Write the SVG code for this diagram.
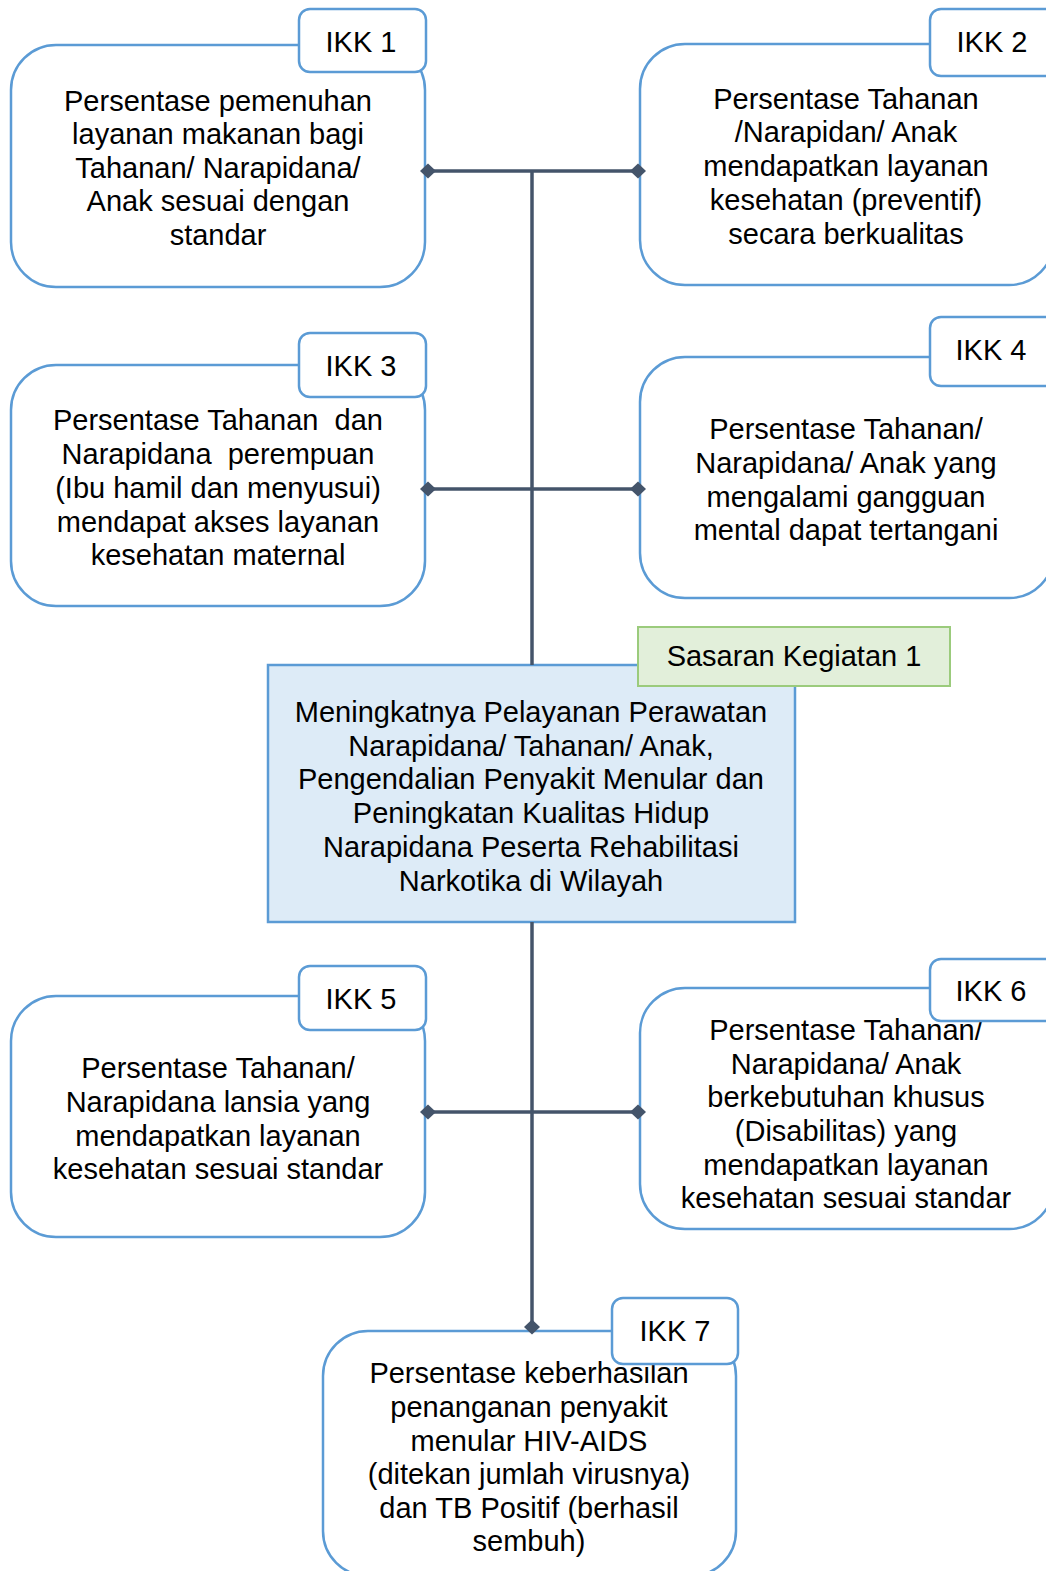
<svg xmlns="http://www.w3.org/2000/svg" width="1046" height="1571" viewBox="0 0 1046 1571">
<style>
.box{fill:#fff;stroke:#5B9BD5;stroke-width:2.5}
.lbl{fill:#fff;stroke:#5B9BD5;stroke-width:2.5}
.main{fill:#DDEBF7;stroke:#5B9BD5;stroke-width:2.5}
.green{fill:#E2EFDA;stroke:#9BCB7C;stroke-width:2}
text{font-family:"Liberation Sans",Arial,sans-serif;font-size:29px;fill:#000;text-anchor:middle;white-space:pre}
.conn{stroke:#44546A;stroke-width:3.5;fill:none}
.dia{fill:#44546A}
</style>
<defs>
<path id="d" d="M-8 0L0 -7.5L8 0L0 7.5Z"/>
</defs>
<rect x="0" y="0" width="1046" height="1571" fill="#fff"/>

<g id="ikk1">
<rect class="box" x="11" y="45" width="414" height="242" rx="45"/>
<text x="218" y="111">Persentase pemenuhan</text>
<text x="218" y="144">layanan makanan bagi</text>
<text x="218" y="178">Tahanan/ Narapidana/</text>
<text x="218" y="211">Anak sesuai dengan</text>
<text x="218" y="245">standar</text>
<rect class="lbl" x="299" y="9" width="127" height="63" rx="11"/>
<text x="361" y="52">IKK 1</text>
</g>

<g id="ikk2">
<rect class="box" x="640" y="44" width="414" height="241" rx="45"/>
<text x="846" y="109">Persentase Tahanan</text>
<text x="846" y="142">/Narapidan/ Anak</text>
<text x="846" y="176">mendapatkan layanan</text>
<text x="846" y="210">kesehatan (preventif)</text>
<text x="846" y="244">secara berkualitas</text>
<rect class="lbl" x="930" y="9" width="127" height="67" rx="11"/>
<text x="992" y="52">IKK 2</text>
</g>

<g id="ikk3">
<rect class="box" x="11" y="365" width="414" height="241" rx="45"/>
<text x="218" y="430">Persentase Tahanan  dan</text>
<text x="218" y="464">Narapidana  perempuan</text>
<text x="218" y="498">(Ibu hamil dan menyusui)</text>
<text x="218" y="532">mendapat akses layanan</text>
<text x="218" y="565">kesehatan maternal</text>
<rect class="lbl" x="299" y="333" width="127" height="64" rx="11"/>
<text x="361" y="376">IKK 3</text>
</g>

<g id="ikk4">
<rect class="box" x="640" y="357" width="414" height="241" rx="45"/>
<text x="846" y="439">Persentase Tahanan/</text>
<text x="846" y="473">Narapidana/ Anak yang</text>
<text x="846" y="507">mengalami gangguan</text>
<text x="846" y="540">mental dapat tertangani</text>
<rect class="lbl" x="930" y="317" width="127" height="69" rx="11"/>
<text x="991" y="360">IKK 4</text>
</g>

<g id="sasaran">
<rect class="main" x="268" y="665" width="527" height="257"/>
<text x="531" y="722">Meningkatnya Pelayanan Perawatan</text>
<text x="531" y="756">Narapidana/ Tahanan/ Anak,</text>
<text x="531" y="789">Pengendalian Penyakit Menular dan</text>
<text x="531" y="823">Peningkatan Kualitas Hidup</text>
<text x="531" y="857">Narapidana Peserta Rehabilitasi</text>
<text x="531" y="891">Narkotika di Wilayah</text>
<rect class="green" x="638" y="627" width="312" height="59"/>
<text x="794" y="666">Sasaran Kegiatan 1</text>
</g>

<g id="ikk5">
<rect class="box" x="11" y="996" width="414" height="241" rx="45"/>
<text x="218" y="1078">Persentase Tahanan/</text>
<text x="218" y="1112">Narapidana lansia yang</text>
<text x="218" y="1146">mendapatkan layanan</text>
<text x="218" y="1179">kesehatan sesuai standar</text>
<rect class="lbl" x="299" y="966" width="127" height="64" rx="11"/>
<text x="361" y="1009">IKK 5</text>
</g>

<g id="ikk6">
<rect class="box" x="640" y="988" width="414" height="241" rx="45"/>
<text x="846" y="1040">Persentase Tahanan/</text>
<text x="846" y="1074">Narapidana/ Anak</text>
<text x="846" y="1107">berkebutuhan khusus</text>
<text x="846" y="1141">(Disabilitas) yang</text>
<text x="846" y="1175">mendapatkan layanan</text>
<text x="846" y="1208">kesehatan sesuai standar</text>
<rect class="lbl" x="930" y="959" width="127" height="62" rx="11"/>
<text x="991" y="1001">IKK 6</text>
</g>

<g id="ikk7">
<rect class="box" x="323" y="1331" width="413" height="245" rx="45"/>
<text x="529" y="1383">Persentase keberhasilan</text>
<text x="529" y="1417">penanganan penyakit</text>
<text x="529" y="1451">menular HIV-AIDS</text>
<text x="529" y="1484">(ditekan jumlah virusnya)</text>
<text x="529" y="1518">dan TB Positif (berhasil</text>
<text x="529" y="1551">sembuh)</text>
<rect class="lbl" x="612" y="1298" width="126" height="66" rx="11"/>
<text x="675" y="1341">IKK 7</text>
</g>

<g id="connectors">
<line class="conn" x1="532" y1="171" x2="532" y2="665"/>
<line class="conn" x1="532" y1="922" x2="532" y2="1327"/>
<line class="conn" x1="427" y1="171" x2="639" y2="171"/>
<line class="conn" x1="427" y1="489" x2="639" y2="489"/>
<line class="conn" x1="427" y1="1112" x2="639" y2="1112"/>
<use href="#d" class="dia" x="428" y="171"/>
<use href="#d" class="dia" x="638" y="171"/>
<use href="#d" class="dia" x="428" y="489"/>
<use href="#d" class="dia" x="638" y="489"/>
<use href="#d" class="dia" x="428" y="1112"/>
<use href="#d" class="dia" x="638" y="1112"/>
<use href="#d" class="dia" x="532" y="1327"/>
</g>
</svg>
